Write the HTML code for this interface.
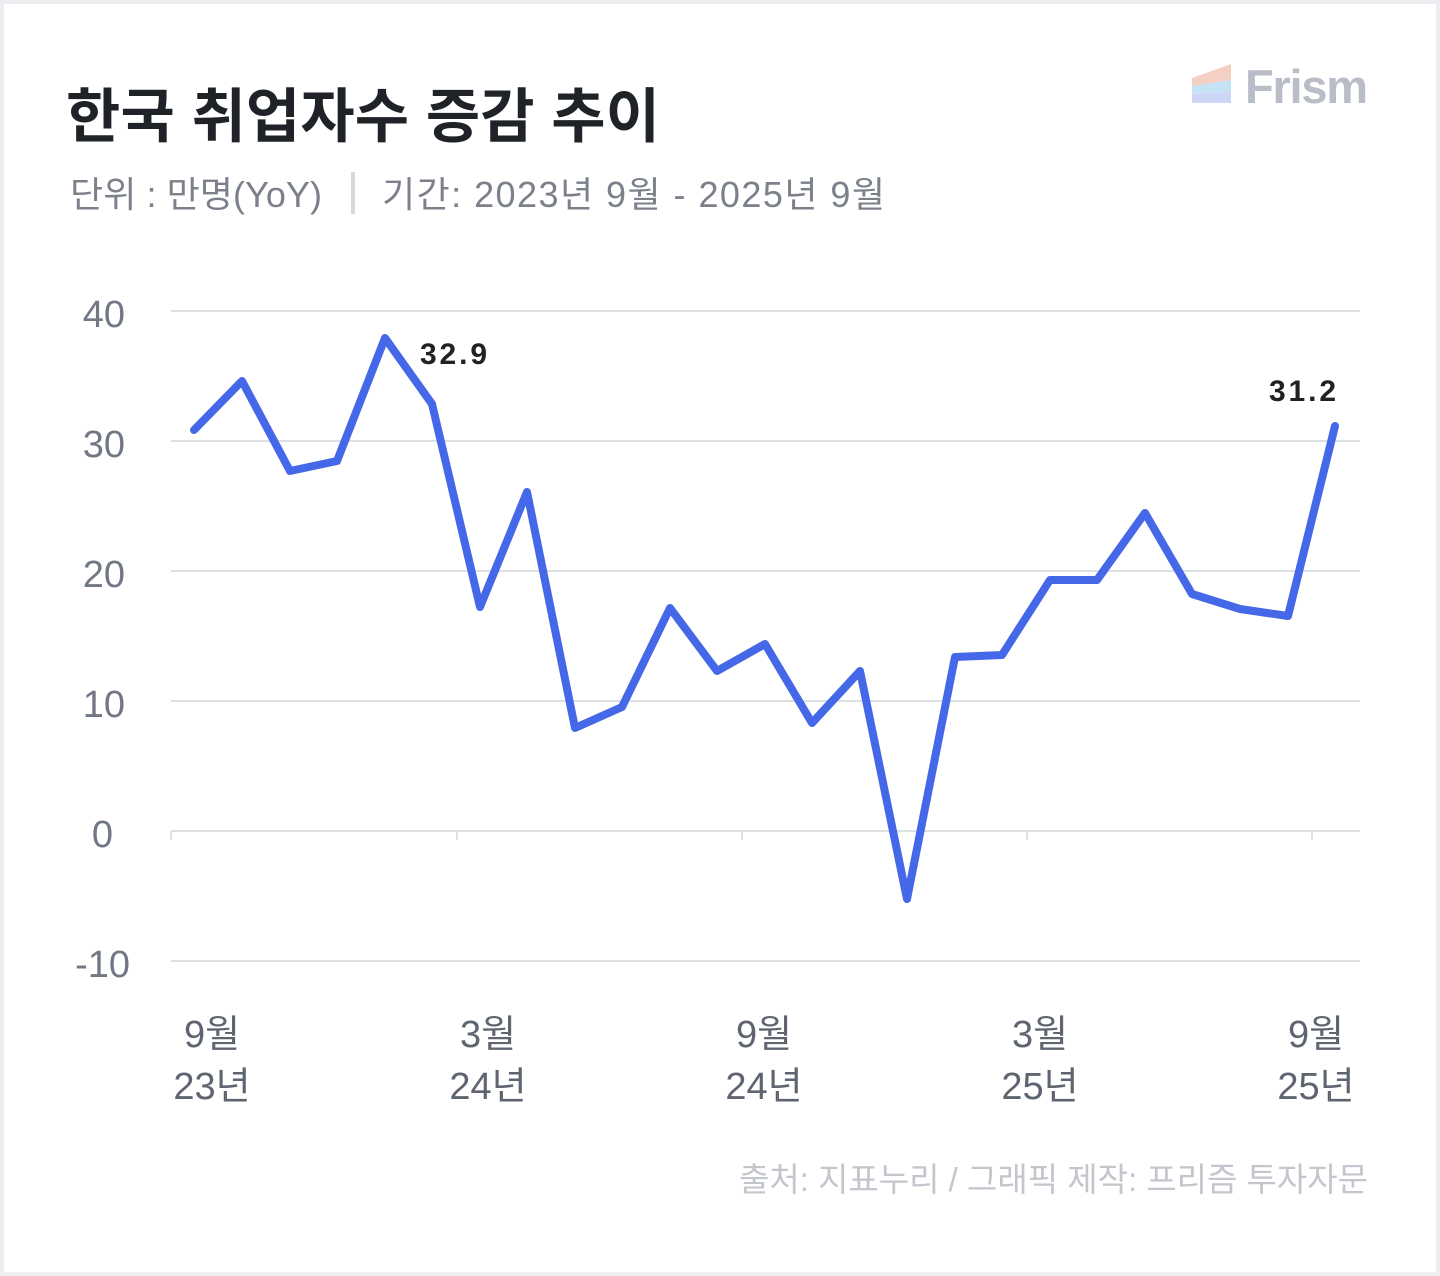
<!DOCTYPE html>
<html><head><meta charset="utf-8"><style>
body{margin:0;background:#eceef2;}
svg{display:block}
text{font-family:"Liberation Sans","Noto Sans CJK KR",sans-serif}
</style></head><body>
<svg width="1440" height="1276" xmlns="http://www.w3.org/2000/svg">
<rect x="0" y="0" width="1440" height="1276" fill="#eceef2"/>
<rect x="4" y="4" width="1432" height="1268" fill="#fff"/>
<text x="66" y="137" font-size="59" font-weight="bold" fill="#1f2328" textLength="594" font-family="Noto Sans CJK KR, sans-serif">한국 취업자수 증감 추이</text>
<text x="70" y="207" font-size="36" fill="#7b808a" textLength="252" font-family="Noto Sans CJK KR, sans-serif">단위 : 만명(YoY)</text>
<rect x="351" y="172" width="4" height="42" fill="#d5d8de"/>
<text x="382" y="207" font-size="36" fill="#7b808a" textLength="503" font-family="Noto Sans CJK KR, sans-serif">기간: 2023년 9월 - 2025년 9월</text>
<polygon points="1192,78 1231,64 1231,80 1192,86" fill="#f4cfc4"/>
<polygon points="1192,86 1231,80 1231,92 1192,94" fill="#c5e3f5"/>
<polygon points="1192,94 1231,92 1231,103 1192,103" fill="#cdd6f6"/>
<text x="1245" y="103" font-size="47" font-weight="bold" fill="#b8bdc7" textLength="123">Frism</text>
<g stroke="#dcdfe4" stroke-width="2">
<line x1="171" y1="311" x2="1360" y2="311"/>
<line x1="171" y1="441" x2="1360" y2="441"/>
<line x1="171" y1="571" x2="1360" y2="571"/>
<line x1="171" y1="701" x2="1360" y2="701"/>
<line x1="171" y1="831" x2="1360" y2="831"/>
<line x1="171" y1="961" x2="1360" y2="961"/>
<line x1="171" y1="831" x2="171" y2="840"/>
<line x1="457" y1="831" x2="457" y2="840"/>
<line x1="742" y1="831" x2="742" y2="840"/>
<line x1="1027" y1="831" x2="1027" y2="840"/>
<line x1="1312" y1="831" x2="1312" y2="840"/>
</g>
<g font-size="38" fill="#717784" text-anchor="end">
<text x="125" y="327">40</text><text x="125" y="457">30</text><text x="125" y="587">20</text>
<text x="125" y="717">10</text><text x="113" y="847">0</text><text x="130" y="977">-10</text>
</g>
<g font-size="38" fill="#5f6570" text-anchor="middle" font-family="Noto Sans CJK KR, sans-serif">
<text x="212" y="1047">9월</text><text x="212" y="1099">23년</text>
<text x="488" y="1047">3월</text><text x="488" y="1099">24년</text>
<text x="764" y="1047">9월</text><text x="764" y="1099">24년</text>
<text x="1040" y="1047">3월</text><text x="1040" y="1099">25년</text>
<text x="1316" y="1047">9월</text><text x="1316" y="1099">25년</text>
</g>
<polyline fill="none" stroke="#4468e8" stroke-width="8" stroke-linejoin="round" stroke-linecap="round"
points="194,430 242,381 290,471 337,461 385,338 432,404 480,607 527,492 575,728 622,707 670,608 717,671 765,644 812,723 860,671 907,899 955,657 1002,655 1050,580 1097,580 1145,513 1192,594 1240,609 1288,616 1335,426"/>
<text x="420" y="364" font-size="30" font-weight="bold" fill="#222" textLength="67">32.9</text>
<text x="1269" y="401" font-size="30" font-weight="bold" fill="#222" textLength="67">31.2</text>
<text x="1368" y="1191" font-size="33" fill="#c3c6cc" text-anchor="end" font-family="Noto Sans CJK KR, sans-serif">출처: 지표누리 / 그래픽 제작: 프리즘 투자자문</text>
</svg>
</body></html>
